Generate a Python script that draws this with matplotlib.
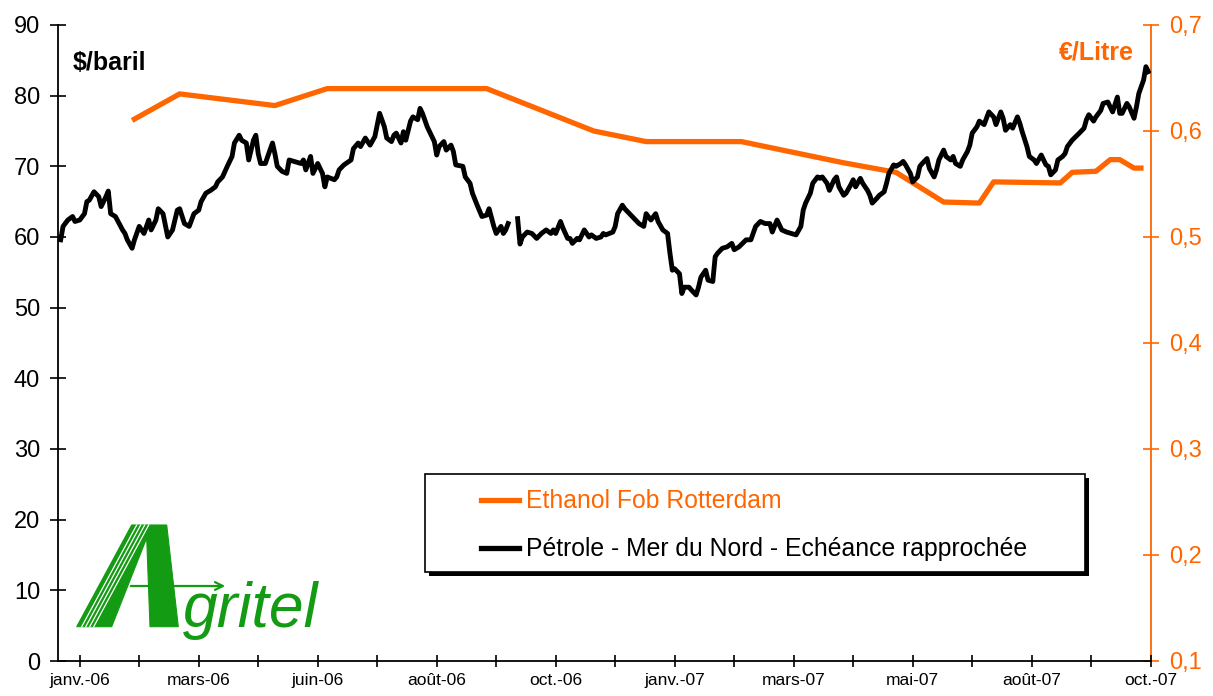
import numpy as np
import matplotlib
matplotlib.use("Agg")
import matplotlib.pyplot as plt
from matplotlib.patches import Polygon, Rectangle, FancyArrowPatch
from matplotlib.lines import Line2D

plt.rcParams['font.family'] = ['Liberation Sans', 'DejaVu Sans']

# ---------------- data ----------------
# x = trading-day index (tick marks every 25 trading days, first tick at day 9)
month_labels = ['janv.-06', 'mars-06', 'juin-06', 'août-06', 'oct.-06',
                'janv.-07', 'mars-07', 'mai-07', 'août-07', 'oct.-07']
left_ticks = [0, 10, 20, 30, 40, 50, 60, 70, 80, 90]
right_ticks = [0.1, 0.2, 0.3, 0.4, 0.5, 0.6, 0.7]
right_labels = ['0,1', '0,2', '0,3', '0,4', '0,5', '0,6', '0,7']

brent_day = [
    1, 2, 4, 6, 7, 9, 11, 12, 13, 15, 17, 18, 20, 21, 22, 24, 27, 28, 29, 31,
    32, 34, 35, 36, 38, 39, 41, 42, 44, 46, 48, 50, 51, 53, 55, 57, 59, 60, 62, 64,
    66, 67, 69, 71, 73, 74, 76, 77, 79, 80, 82, 83, 84, 85, 87, 88, 90, 91, 92, 94,
    96, 97, 99, 102, 103, 104, 106, 107, 109, 111, 112, 113, 116, 117, 118, 120, 123, 124, 126, 127,
    129, 131, 133, 135, 137, 138, 140, 141,
    142, 144, 145, 146, 148, 149, 151, 152, 153, 155, 156, 158, 159, 160, 162, 163, 165, 166, 167, 170,
    171, 173, 174, 176, 178, 180, 181, 183, 184, 186, 187, 188, 189, 191,
    193, 194, 195, 197, 199, 201, 203, 205, 207, 208, 209, 211, 212, 214, 215, 216, 218, 219, 221, 223,
    224, 226, 228, 229, 230, 233, 234, 235, 237, 238, 240, 242, 244, 246, 247, 249, 251, 252, 254, 256,
    257, 258, 259, 261, 262, 263, 265, 266, 268, 269, 270, 272, 273, 275, 276, 277, 279, 281, 283, 284,
    286, 289, 291, 293, 295, 297, 299, 300, 302, 304, 306, 308, 310, 312,
    313, 314, 316, 317, 319, 320, 321, 323, 324, 326, 327, 328, 330, 331, 333, 334, 335, 337, 338, 340,
    341, 342, 344, 345, 347, 348, 349, 351, 352, 354, 355, 356, 358, 359, 361, 362, 363, 365, 366, 368,
    369, 370, 372, 373, 375, 376, 377, 379, 380, 382, 383, 384, 386, 387, 389, 390, 391, 393, 394, 396,
    397, 398, 400, 401, 403, 404,
    405, 407, 408, 410, 411, 413, 415, 416, 417, 419, 420, 422, 423, 424, 426, 429, 431, 432, 433, 435,
    436, 438, 439, 441, 442, 443, 445, 446, 447, 449, 450, 452, 453, 454, 456, 457, 458,
]
brent_usd = [
    59.6, 61.5, 62.4, 62.9, 62.2, 62.4, 63.3, 65.0, 65.2, 66.4, 65.7, 64.3, 65.7, 66.5, 63.3, 62.9, 61.0, 60.5, 59.6, 58.4,
    59.6, 61.5, 61.0, 60.5, 62.4, 61.0, 62.4, 64.0, 63.3, 60.0, 61.0, 63.8, 64.0, 61.9, 61.5, 63.3, 63.8, 65.0, 66.2, 66.6,
    67.1, 67.8, 68.5, 70.0, 71.4, 73.3, 74.4, 73.7, 73.3, 70.9, 73.7, 74.4, 71.8, 70.4, 70.4, 71.4, 73.3, 71.8, 70.0, 69.3,
    69.0, 70.9, 70.7, 70.4, 70.9, 69.5, 71.4, 69.0, 70.4, 69.0, 67.1, 68.5, 68.1, 68.5, 69.5, 70.2, 70.9, 72.5, 73.3, 72.8,
    74.0, 73.0, 74.2, 77.5, 75.6, 74.0, 73.5, 74.4,
    74.7, 73.3, 74.9, 73.7, 76.4, 77.0, 76.6, 78.2, 77.5, 75.6, 74.9, 73.5, 71.6, 72.8, 73.5, 72.3, 73.0, 72.1, 70.2, 70.0,
    68.5, 67.6, 66.2, 64.5, 62.9, 63.1, 64.0, 61.5, 60.5, 61.5, 60.5, 61.0, 61.9, np.nan,
    62.6, 59.0, 60.0, 60.7, 60.5, 59.8, 60.5, 61.0, 60.5, 61.0, 60.5, 62.2, 61.3, 59.8, 59.8, 59.1, 59.8, 59.6, 61.0, 60.0,
    60.3, 59.8, 60.0, 60.5, 60.3, 60.7, 61.5, 63.3, 64.5, 64.0, 63.3, 62.6, 61.9, 61.5, 63.3, 62.4, 63.3, 62.2, 61.0, 60.5,
    57.7, 55.3, 55.5, 54.8, 52.0, 52.9, 52.9, 52.5, 51.8, 52.9, 54.3, 55.3, 53.9, 53.7, 57.2, 57.7, 58.4, 58.6, 59.1, 58.2,
    58.6, 59.6, 59.6, 61.5, 62.2, 61.9, 61.9, 60.7, 62.4, 61.0, 60.7, 60.5, 60.3, 61.5,
    63.8, 64.8, 66.2, 67.6, 68.5, 68.3, 68.5, 67.6, 66.6, 68.1, 68.5, 67.1, 65.9, 66.2, 67.4, 68.1, 67.1, 68.3, 67.6, 66.6,
    65.9, 64.8, 65.5, 65.9, 66.4, 67.6, 69.0, 70.2, 70.0, 70.4, 70.7, 70.2, 69.0, 67.8, 68.5, 70.0, 70.4, 71.1, 69.7, 68.5,
    69.5, 70.9, 72.3, 71.4, 70.9, 71.4, 70.4, 70.0, 70.9, 72.1, 73.0, 74.7, 75.6, 76.4, 75.9, 76.8, 77.7, 77.0, 75.9, 77.7,
    76.8, 75.1, 75.9, 75.4, 77.0, 76.1,
    74.9, 72.8, 71.4, 70.9, 70.4, 71.6, 70.2, 70.0, 68.8, 69.5, 70.9, 71.4, 71.8, 72.8, 73.7, 74.7, 75.4, 76.6, 77.3, 76.4,
    77.0, 77.9, 78.9, 79.1, 78.4, 77.7, 79.8, 77.5, 77.5, 78.9, 78.4, 76.8, 78.4, 80.3, 82.2, 84.1, 83.4,
]

ethanol_day = [31, 51, 91, 113, 180, 225, 247, 287, 330, 352,
               372, 387, 393, 421, 426, 436, 442, 446, 452, 456]
ethanol_eur = [0.610, 0.635, 0.624, 0.640, 0.640, 0.600, 0.590, 0.590, 0.570, 0.561,
               0.533, 0.532, 0.552, 0.551, 0.561, 0.562, 0.573, 0.573, 0.565, 0.565]

series_names = ['Ethanol Fob Rotterdam', 'Pétrole - Mer du Nord - Echéance rapprochée']

# ---------------- style ----------------
ORANGE = '#FF6600'
GREEN = '#149B14'
W, H = 1213, 696
FIRST_TICK, TICK_STEP, N_TICKS = 9, 25, 19

fig = plt.figure(figsize=(W / 100, H / 100), dpi=100)
fig.patch.set_facecolor('white')

ax_l, ax_r, ax_t, ax_b = 58.3, 1150.7, 25, 661
ax = fig.add_axes([ax_l / W, 1 - ax_b / H, (ax_r - ax_l) / W, (ax_b - ax_t) / H])
ax2 = ax.twinx()

ax2.plot(ethanol_day, ethanol_eur, color=ORANGE, lw=3.8, solid_capstyle='butt')
ax.plot(brent_day, brent_usd, color='black', lw=3.5, solid_joinstyle='round')

ax.set_zorder(ax2.get_zorder() + 1)
ax.patch.set_visible(False)

xmax = FIRST_TICK + TICK_STEP * (N_TICKS - 1)
ax.set_xlim(0, xmax)
ax.set_ylim(0, 90)
ax2.set_ylim(0.1, 0.7)

xt = [FIRST_TICK + TICK_STEP * k for k in range(N_TICKS)]
xl = []
for k in range(N_TICKS):
    xl.append(month_labels[k // 2] if k % 2 == 0 else '')
ax.set_xticks(xt)
ax.set_xticklabels(xl)
ax.set_yticks(left_ticks)
ax.set_yticklabels([str(v) for v in left_ticks])
ax2.set_yticks(right_ticks)
ax2.set_yticklabels(right_labels)

for s in ['top', 'right']:
    ax.spines[s].set_visible(False)
for s in ['top', 'left', 'bottom']:
    ax2.spines[s].set_visible(False)
ax.spines['left'].set_linewidth(1.3)
ax.spines['bottom'].set_linewidth(1.3)
ax2.spines['right'].set_color(ORANGE)
ax2.spines['right'].set_linewidth(1.3)

ax.tick_params(axis='y', direction='inout', length=11, width=1.2, labelsize=17, pad=7.5)
ax.tick_params(axis='x', direction='inout', length=8.5, width=1.2, labelsize=12.5, pad=4.5)
ax2.tick_params(axis='y', direction='inout', length=11, width=1.2, labelsize=17, pad=8,
                colors=ORANGE)

# ---------------- overlay (labels, legend, logo) ----------------
deco = fig.add_axes([0, 0, 1, 1], zorder=10)
deco.set_xlim(0, W)
deco.set_ylim(H, 0)
deco.axis('off')
deco.patch.set_visible(False)

deco.text(73, 70.5, '$/baril', fontsize=18, fontweight='bold', color='black',
          ha='left', va='baseline')
deco.text(1133.5, 59, '€/Litre', fontsize=18, fontweight='bold', color=ORANGE,
          ha='right', va='baseline')

# legend box
lx0, ly0, lw_, lh_ = 425, 474, 660, 98
deco.add_patch(Rectangle((lx0 + 4, ly0 + 4), lw_, lh_, facecolor='black', edgecolor='none'))
deco.add_patch(Rectangle((lx0, ly0), lw_, lh_, facecolor='white', edgecolor='black', lw=1.2))
row_y = [500, 548]
row_col = [ORANGE, 'black']
for yy, cc, name in zip(row_y, row_col, series_names):
    deco.add_line(Line2D([481, 519], [yy, yy], color=cc, lw=3.8))
    deco.text(526, yy + 1, name, fontsize=17.8, color=cc, ha='left', va='center')

# Agritel logo
A_shape = [(76.7, 626.7), (131.7, 525), (166.7, 525), (178.3, 626.7),
           (150, 626.7), (146.7, 538), (111.7, 626.7)]
deco.add_patch(Polygon(A_shape, closed=True, facecolor=GREEN, edgecolor=GREEN, lw=0.8))
for off in [5, 9, 13, 17]:
    deco.add_line(Line2D([76.7 + off, 131.7 + off], [626.7, 525], color='white', lw=0.9))
deco.add_patch(FancyArrowPatch((128, 586), (228, 586), arrowstyle='->', mutation_scale=14,
                               color=GREEN, lw=1.6))
deco.text(183, 626.5, 'gritel', fontsize=45, style='italic', color=GREEN,
          ha='left', va='baseline')

fig.savefig('out.png', dpi=100, facecolor='white')
